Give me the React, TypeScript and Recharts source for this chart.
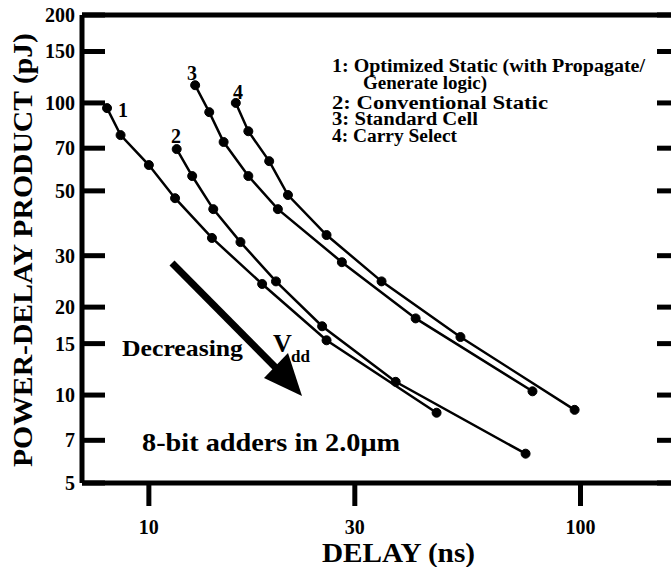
import { LineChart, Line, XAxis, YAxis } from "recharts";

// delay (ns) and power-delay product (pJ)
const s1Delay = [8.0, 8.6, 10.0, 11.5, 14.0, 18.3, 25.8, 46.4];
const s1Pdp = [96, 77.6, 61.3, 47.2, 34.5, 24.0, 15.4, 8.7];
const s2Delay = [11.6, 12.6, 14.1, 16.3, 19.7, 25.2, 37.3, 74.6];
const s2Pdp = [69.5, 56.2, 43.3, 33.4, 24.5, 17.2, 11.1, 6.3];
const s3Delay = [12.8, 13.8, 14.9, 17.0, 19.9, 28.0, 41.5, 77.4];
const s3Pdp = [115, 93, 73.5, 56.2, 43.3, 28.5, 18.3, 10.3];
const s4Delay = [15.9, 17.0, 19.0, 21.0, 25.8, 34.6, 52.7, 96.9];
const s4Pdp = [100, 80, 63.2, 48.4, 35.3, 24.5, 15.8, 8.9];

const xTicks = [10, 30, 100];
const yTicks = [5, 7, 10, 15, 20, 30, 50, 70, 100, 150, 200];
const xDomain = [7, 170];
const yDomain = [5, 200];
const legendLines = [
  "1: Optimized Static (with Propagate/",
  "Generate logic)",
  "2: Conventional Static",
  "3: Standard Cell",
  "4: Carry Select",
];
const legendWidths = [313, 124, 216, 146, 125];
const legendBase = [72, 89, 109, 125, 142];

const TOP = 15;
const RIGHT = 680;
const FONT = "'Liberation Serif', 'Times New Roman', serif";
const heavy = { stroke: "#000", strokeWidth: 5 };

const zip = (xs: number[], ys: number[]) => xs.map((x, i) => ({ x, y: ys[i] }));
const series = [zip(s1Delay, s1Pdp), zip(s2Delay, s2Pdp), zip(s3Delay, s3Pdp), zip(s4Delay, s4Pdp)];

const XTick = (props: any) => (
  <text x={props.x} y={534} textAnchor="middle" fontFamily={FONT} fontWeight="bold" fontSize={20} fill="#000">
    {props.payload.value}
  </text>
);

const YTick = (props: any) => (
  <text x={75} y={props.y + 7} textAnchor="end" fontFamily={FONT} fontWeight="bold" fontSize={20} fill="#000">
    {props.payload.value}
  </text>
);

const NoLabel = () => null;

export default function App() {
  return (
    <div
      style={{
        position: "absolute",
        left: 0,
        top: 0,
        width: 671,
        height: 567,
        overflow: "hidden",
        background: "#fff",
      }}
    >
      <LineChart width={700} height={567} margin={{ top: TOP, right: 700 - RIGHT, bottom: 54, left: 0 }}>
        <XAxis
          dataKey="x"
          type="number"
          scale="log"
          domain={xDomain}
          ticks={xTicks}
          allowDataOverflow
          axisLine={heavy}
          tickLine={heavy}
          tickSize={23}
          tick={<XTick />}
          height={30}
        />
        <XAxis
          xAxisId="top"
          orientation="top"
          mirror
          type="number"
          scale="log"
          domain={xDomain}
          ticks={xTicks}
          allowDataOverflow
          axisLine={heavy}
          tickLine={heavy}
          tickSize={25}
          tick={<NoLabel />}
        />
        <YAxis
          dataKey="y"
          type="number"
          scale="log"
          domain={yDomain}
          ticks={yTicks}
          allowDataOverflow
          axisLine={heavy}
          tickLine={false}
          tick={<YTick />}
          width={82}
        />
        <YAxis
          yAxisId="inner"
          orientation="left"
          mirror
          type="number"
          scale="log"
          domain={yDomain}
          ticks={yTicks}
          allowDataOverflow
          axisLine={false}
          tickLine={heavy}
          tickSize={23}
          tick={<NoLabel />}
        />
        <YAxis
          yAxisId="right"
          orientation="right"
          mirror
          type="number"
          scale="log"
          domain={yDomain}
          ticks={yTicks}
          allowDataOverflow
          axisLine={heavy}
          tickLine={heavy}
          tickSize={23}
          tick={<NoLabel />}
        />
        {series.map((d, i) => (
          <Line
            key={i}
            data={d}
            dataKey="y"
            type="linear"
            stroke="#000"
            strokeWidth={2.5}
            dot={{ r: 4.5, fill: "#000", stroke: "#000", strokeWidth: 1 }}
            isAnimationActive={false}
          />
        ))}
      </LineChart>

      <svg width={671} height={567} style={{ position: "absolute", left: 0, top: 0, pointerEvents: "none" }}>
        <g fontFamily={FONT} fontWeight="bold" fill="#000">
          <text x={123} y={117} fontSize={20} textAnchor="middle">1</text>
          <text x={176} y={143} fontSize={20} textAnchor="middle">2</text>
          <text x={192} y={80} fontSize={20} textAnchor="middle">3</text>
          <text x={238} y={99} fontSize={20} textAnchor="middle">4</text>

          {legendLines.map((t, i) => (
            <text
              key={i}
              x={i === 1 ? 363 : 332}
              y={legendBase[i]}
              fontSize={18}
              textLength={legendWidths[i]}
              lengthAdjust="spacingAndGlyphs"
            >
              {t}
            </text>
          ))}

          <text x={122} y={356} fontSize={23} textLength={121} lengthAdjust="spacingAndGlyphs">Decreasing</text>
          <text x={273} y={352} fontSize={26}>V</text>
          <text x={291} y={362} fontSize={17}>dd</text>

          <text x={142} y={451} fontSize={26} textLength={258} lengthAdjust="spacingAndGlyphs">
            8-bit adders in 2.0μm
          </text>

          <text x={322} y={562} fontSize={27} textLength={153} lengthAdjust="spacingAndGlyphs">DELAY (ns)</text>
          <text
            x={32}
            y={250}
            fontSize={27}
            textAnchor="middle"
            transform="rotate(-90 32 250)"
            textLength={434}
            lengthAdjust="spacingAndGlyphs"
          >
            POWER-DELAY PRODUCT (pJ)
          </text>
        </g>
        <line x1={172} y1={263} x2={280} y2={372} stroke="#000" strokeWidth={7} />
        <polygon points="302,396 264,378 288,353" fill="#000" />
      </svg>
    </div>
  );
}
